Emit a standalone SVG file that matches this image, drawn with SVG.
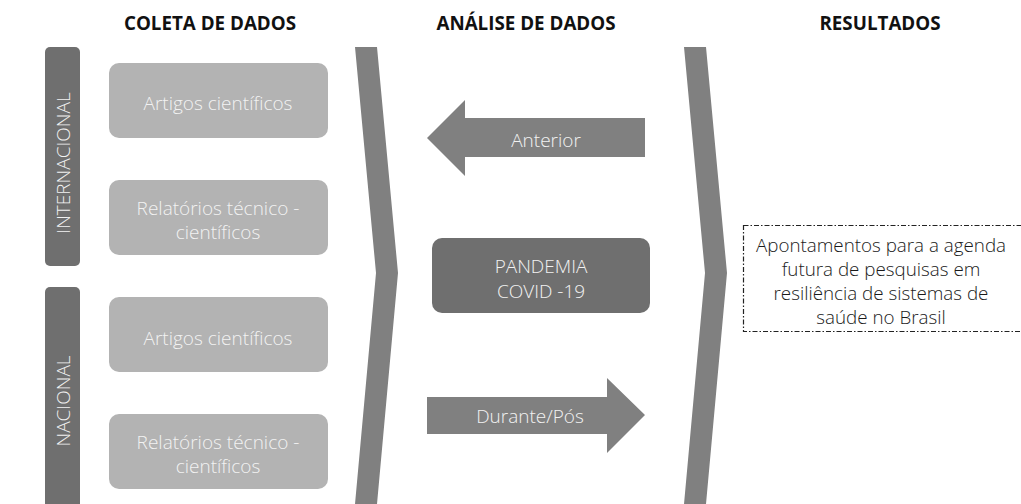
<svg xmlns="http://www.w3.org/2000/svg" width="1021" height="504" viewBox="0 0 1021 504">
<style>
.title{font-family:"Open Sans","Liberation Sans",sans-serif;font-weight:700;font-size:18.8px;fill:#111;text-anchor:middle}
.lt{font-family:"Open Sans","Liberation Sans",sans-serif;font-weight:300;font-size:19px;fill:#f2f2f2;text-anchor:middle}
.dk{font-family:"Open Sans","Liberation Sans",sans-serif;font-weight:300;font-size:18.8px;fill:#1a1a1a;text-anchor:middle}
.src{fill:#b3b3b3}
.side{fill:#6f6f6f}
.band{fill:#808080}
</style>
<rect width="1021" height="504" fill="#fff"/>
<g id="titles">
<text class="title" x="210" y="30">COLETA DE DADOS</text>
<text class="title" x="526" y="30">ANÁLISE DE DADOS</text>
<text class="title" x="880" y="30">RESULTADOS</text>
</g>
<g id="internacional">
<rect class="side" x="45" y="47" width="35" height="219" rx="5"/>
<text class="lt" transform="translate(70,163) rotate(-90)">INTERNACIONAL</text>
</g>
<g id="nacional">
<rect class="side" x="45" y="287" width="35" height="230" rx="5"/>
<text class="lt" transform="translate(70,401) rotate(-90)">NACIONAL</text>
</g>
<g id="int-artigos">
<rect class="src" x="109" y="63" width="219" height="75" rx="10"/>
<text class="lt" x="218" y="110">Artigos científicos</text>
</g>
<g id="int-relatorios">
<rect class="src" x="109" y="180" width="219" height="75" rx="10"/>
<text class="lt" x="218" y="215">Relatórios técnico -</text>
<text class="lt" x="218" y="239">científicos</text>
</g>
<g id="nac-artigos">
<rect class="src" x="109" y="297" width="219" height="75" rx="10"/>
<text class="lt" x="218" y="345">Artigos científicos</text>
</g>
<g id="nac-relatorios">
<rect class="src" x="109" y="414" width="219" height="75" rx="10"/>
<text class="lt" x="218" y="449">Relatórios técnico -</text>
<text class="lt" x="218" y="473">científicos</text>
</g>
<g id="connectors">
<polygon class="band" points="355,47 377,47 398,273 377,504 355,504 376,273"/>
<polygon class="band" points="684,47 706,47 727,273 706,504 684,504 705,273"/>
</g>
<g id="anterior">
<polygon class="band" points="427,138 465,100 465,118 645,118 645,157 465,157 465,176"/>
<text class="lt" x="546" y="147">Anterior</text>
</g>
<g id="pandemia">
<rect class="side" x="432" y="238" width="218" height="75" rx="10"/>
<text class="lt" x="541" y="273">PANDEMIA</text>
<text class="lt" x="541" y="298">COVID -19</text>
</g>
<g id="durante">
<polygon class="band" points="427,397 607,397 607,378 645,415 607,453 607,434 427,434"/>
<text class="lt" x="530" y="423">Durante/Pós</text>
</g>
<g id="resultado">
<rect x="743.5" y="225.5" width="290" height="106" fill="none" stroke="#222" stroke-width="1.2" stroke-dasharray="5,2,1.5,2"/>
<text class="dk" x="881" y="252">Apontamentos para a agenda</text>
<text class="dk" x="881" y="276">futura de pesquisas em</text>
<text class="dk" x="881" y="300">resiliência de sistemas de</text>
<text class="dk" x="881" y="324">saúde no Brasil</text>
</g>
</svg>
